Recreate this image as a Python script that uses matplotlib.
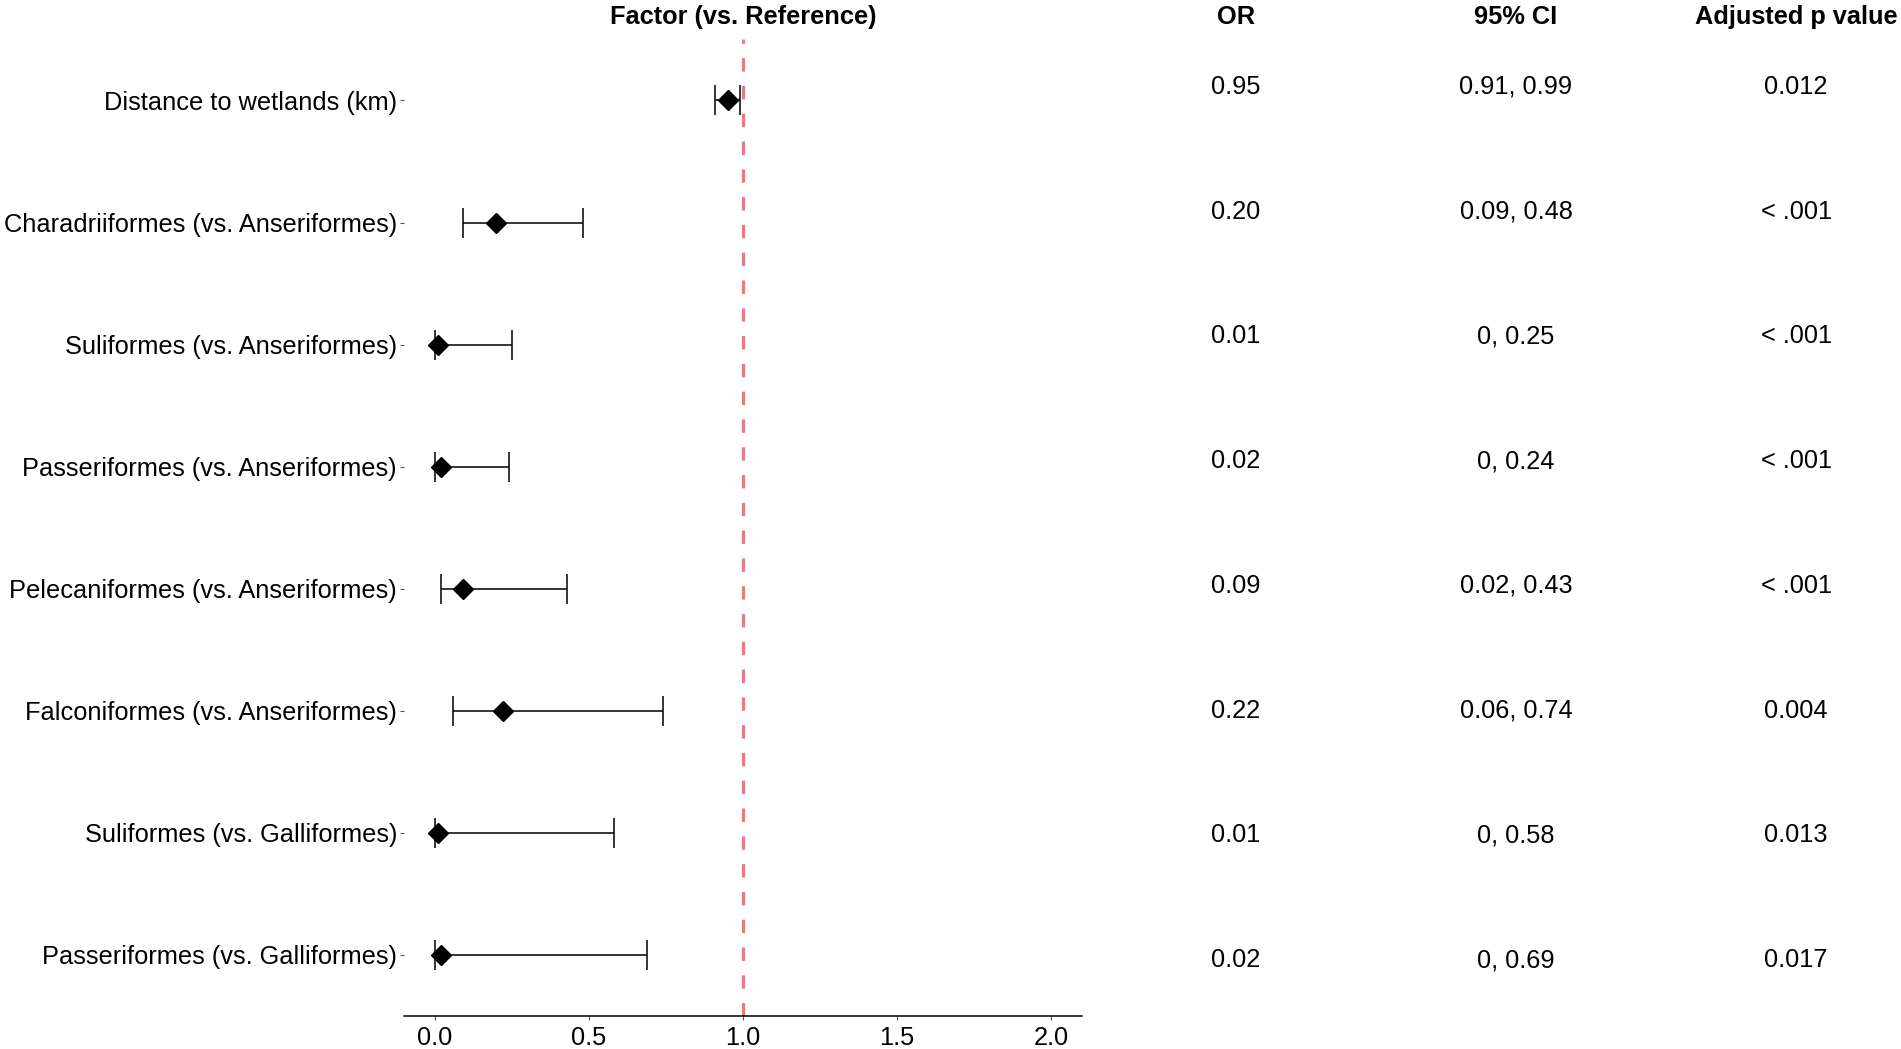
import matplotlib.pyplot as plt

plt.rcParams['font.family'] = ['Liberation Sans', 'DejaVu Sans']

factors = [
    "Distance to wetlands (km)",
    "Charadriiformes (vs. Anseriformes)",
    "Suliformes (vs. Anseriformes)",
    "Passeriformes (vs. Anseriformes)",
    "Pelecaniformes (vs. Anseriformes)",
    "Falconiformes (vs. Anseriformes)",
    "Suliformes (vs. Galliformes)",
    "Passeriformes (vs. Galliformes)",
]
odds_ratio = [0.95, 0.20, 0.01, 0.02, 0.09, 0.22, 0.01, 0.02]
ci_low = [0.91, 0.09, 0, 0, 0.02, 0.06, 0, 0]
ci_high = [0.99, 0.48, 0.25, 0.24, 0.43, 0.74, 0.58, 0.69]
p_adj = ["0.012", "< .001", "< .001", "< .001", "< .001", "0.004", "0.013", "0.017"]

or_text = [f"{v:.2f}" for v in odds_ratio]
ci_text = [f"{lo:g}, {hi:g}" if lo == 0 else f"{lo:.2f}, {hi:.2f}" for lo, hi in zip(ci_low, ci_high)]
headers = ["OR", "95% CI", "Adjusted p value"]
col_x = [0.650, 0.7975, 0.9448]

W, H = 1901, 1049
FS = 18.3
fig = plt.figure(figsize=(W / 100, H / 100), dpi=100)

n = len(factors)
ypos = [n - i for i in range(n)]

# forest panel
ax = fig.add_axes([404 / W, 1 - 1016 / H, (1082 - 404) / W, (1016 - 39.4) / H])
ax.axvline(1.0, color='#F2767F', lw=2.3, ls=(0, (4.2, 4.5)), zorder=1)
xerr = [[o - lo for o, lo in zip(odds_ratio, ci_low)],
        [hi - o for o, hi in zip(odds_ratio, ci_high)]]
ax.errorbar(odds_ratio, ypos, xerr=xerr, fmt='D', color='black', ms=10,
            ecolor='black', elinewidth=1.1, capsize=11, capthick=1.1, zorder=3)

ax.set_xlim(-0.1, 2.1)
ax.set_ylim(0.5, n + 0.5)
ax.set_xticks([0.0, 0.5, 1.0, 1.5, 2.0])
ax.set_xticklabels(["0.0", "0.5", "1.0", "1.5", "2.0"])
ax.set_yticks(ypos)
ax.set_yticklabels(factors)
for s in ['top', 'right', 'left']:
    ax.spines[s].set_visible(False)
ax.spines['bottom'].set_linewidth(1.1)
ax.tick_params(axis='both', labelsize=FS, colors='#555555', labelcolor='black',
               length=3, width=0.8, pad=2)
ax.tick_params(axis='x', pad=4)

fig.text(743 / W, 1 - 17 / H, "Factor (vs. Reference)", ha='center', va='center',
         fontsize=FS, fontweight='bold')

# table panel
tab = fig.add_axes([0, 1 - 1022.4 / H, 1, (1020.4 - 22.6) / H])
tab.set_xlim(0, 1)
tab.set_ylim(0.5, n + 0.5)
tab.axis('off')
for cx, col in zip(col_x, [or_text, ci_text, p_adj]):
    for y, t in zip(ypos, col):
        tab.text(cx, y, t, ha='center', va='center', fontsize=FS)
for cx, h in zip(col_x, headers):
    fig.text(cx, 1 - 17 / H, h, ha='center', va='center', fontsize=FS,
             fontweight='bold')

fig.savefig("out.png", dpi=100)
